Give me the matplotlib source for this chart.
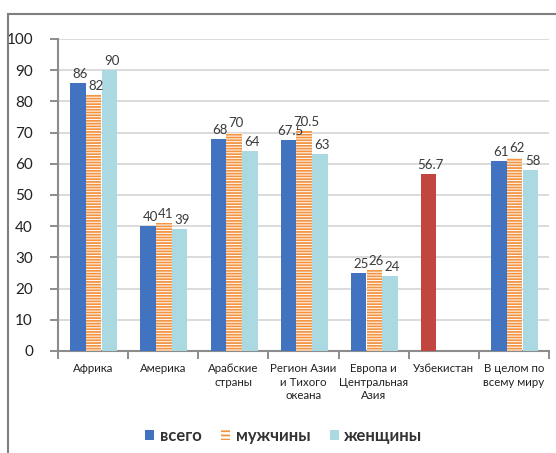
import matplotlib
matplotlib.use("Agg")
import matplotlib.pyplot as plt
from matplotlib.lines import Line2D
from matplotlib.patches import Patch

plt.rcParams["font.family"] = ["Lato", "DejaVu Sans"]
plt.rcParams["hatch.linewidth"] = 1.3

categories = ["Африка", "Америка", "Арабские\nстраны", "Регион Азии\nи Тихого\nокеана",
              "Европа и\nЦентральная\nАзия", "Узбекистан", "В целом по\nвсему миру"]
total = [86, 40, 68, 67.5, 25, 56.7, 61]
men = [82, 41, 70, 70.5, 26, None, 62]
women = [90, 39, 64, 63, 24, None, 58]
highlight = "Узбекистан"

C_TOTAL = "#4273C0"
C_MEN = "#F39442"
C_WOMEN = "#ABD9E2"
C_HIGHLIGHT = "#C0463F"
C_AXIS = "#8C8C8C"
C_TEXT = "#3A3A3A"


def fmt(v):
    return f"{v:g}"


fig = plt.figure(figsize=(5.56, 4.53), dpi=100)
ax = fig.add_axes([58 / 556, 1 - 351 / 453, 491 / 556, 312 / 453])

width = 0.22
offsets = [-0.215, 0.01, 0.235]
for i, cat in enumerate(categories):
    series = [
        (total[i], C_TOTAL if cat != highlight else C_HIGHLIGHT, None),
        (men[i], C_MEN, "------"),
        (women[i], C_WOMEN, None),
    ]
    for (v, col, hatch), off in zip(series, offsets):
        if v is None:
            continue
        x = i + off
        if hatch:
            ax.bar(x, v, width, color="white", edgecolor=col, hatch=hatch,
                   linewidth=0, zorder=3)
        else:
            ax.bar(x, v, width, color=col, linewidth=0, zorder=3)
        ax.text(x + 0.03, v + 1.0, fmt(v), ha="center", va="bottom",
                fontsize=9.5, color=C_TEXT, zorder=4)

ax.set_xlim(-0.5, len(categories) - 0.5)
ax.set_ylim(0, 100)
ax.set_yticks(range(0, 101, 10))
ax.yaxis.grid(True, color="#DADADA", linewidth=1.4, zorder=0)
ax.set_axisbelow(True)

# boundary ticks below the axis, category labels centred between them
ax.set_xticks([i - 0.5 for i in range(len(categories) + 1)])
ax.set_xticklabels([])
ax.set_xticks(range(len(categories)), minor=True)
ax.set_xticklabels(categories, minor=True, fontsize=8.3, color="#222222",
                   linespacing=1.25, va="top")
ax.tick_params(axis="x", which="major", length=6, width=1.4, color=C_AXIS)
ax.tick_params(axis="x", which="minor", length=0, pad=9)
ax.tick_params(axis="y", length=6, width=1.4, color=C_AXIS, pad=12,
               labelsize=11, labelcolor="#222222")

for side in ("top", "right"):
    ax.spines[side].set_visible(False)
for side in ("left", "bottom"):
    ax.spines[side].set_color(C_AXIS)
    ax.spines[side].set_linewidth(1.5)

handles = [
    Patch(facecolor=C_TOTAL, linewidth=0),
    Patch(facecolor="white", edgecolor=C_MEN, hatch="----", linewidth=0),
    Patch(facecolor=C_WOMEN, linewidth=0),
]
fig.legend(handles, ["всего", "мужчины", "женщины"], loc="center",
           bbox_to_anchor=(284 / 556, 1 - 436 / 453), ncol=3, frameon=False,
           handlelength=0.5, handleheight=0.5, handletextpad=0.35, columnspacing=1.2,
           prop={"size": 12, "weight": "bold"}, labelcolor="#333333")

# chart frame
fig.add_artist(Line2D([8 / 556, 1], [1 - 14 / 453] * 2, transform=fig.transFigure,
                      color="#7F7F7F", linewidth=1.5))
fig.add_artist(Line2D([8 / 556] * 2, [0, 1 - 14 / 453], transform=fig.transFigure,
                      color="#7F7F7F", linewidth=1.5))

fig.savefig("out.png", dpi=100)
